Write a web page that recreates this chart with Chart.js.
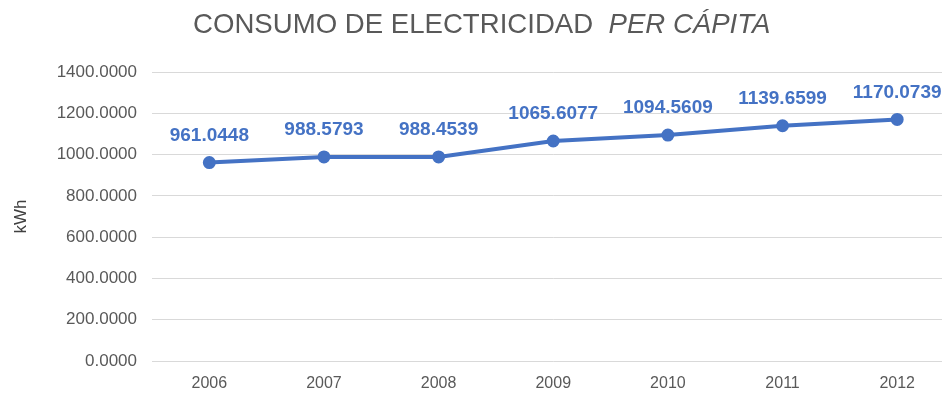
<!DOCTYPE html>
<html>
<head>
<meta charset="utf-8">
<script src="https://cdn.jsdelivr.net/npm/chart.js@4/dist/chart.umd.min.js"></script>
<style>
html,body{margin:0;padding:0;background:#fff;overflow:hidden;}
#wrap{width:963px;height:401px;position:relative;}
</style>
</head>
<body>
<div id="wrap"><canvas id="c"></canvas></div>
<script>
const years = ['2006','2007','2008','2009','2010','2011','2012'];
const consumo = [961.0448, 988.5793, 988.4539, 1065.6077, 1094.5609, 1139.6599, 1170.0739];
const titleMain = 'CONSUMO DE ELECTRICIDAD  ';
const titleItalic = 'PER CÁPITA';
const yAxisTitle = 'kWh';

const FONT = '"Liberation Sans", Arial, sans-serif';

const titlePlugin = {
  id: 'twoStyleTitle',
  afterDraw(chart) {
    const ctx = chart.ctx;
    ctx.save();
    ctx.fillStyle = '#595959';
    ctx.textBaseline = 'middle';
    ctx.textAlign = 'left';
    ctx.font = '27.6px ' + FONT;
    const w1 = ctx.measureText(titleMain).width;
    const x0 = 193;
    const y = 25;
    ctx.fillText(titleMain, x0, y);
    ctx.font = 'italic 27.6px ' + FONT;
    ctx.fillText(titleItalic, x0 + w1, y);
    ctx.restore();
  }
};

const labelPlugin = {
  id: 'pointLabels',
  afterDatasetsDraw(chart) {
    const ctx = chart.ctx;
    const meta = chart.getDatasetMeta(0);
    ctx.save();
    ctx.fillStyle = '#4472C4';
    ctx.font = 'bold 19px ' + FONT;
    ctx.textAlign = 'center';
    ctx.textBaseline = 'middle';
    meta.data.forEach((pt, i) => {
      ctx.fillText(consumo[i].toFixed(4), pt.x, pt.y - 27);
    });
    ctx.restore();
  }
};

new Chart(document.getElementById('c'), {
  type: 'line',
  data: {
    labels: years,
    datasets: [{
      data: consumo,
      borderColor: '#4472C4',
      backgroundColor: '#4472C4',
      borderWidth: 4,
      pointRadius: 4.5,
      pointHoverRadius: 4.5,
      pointBackgroundColor: '#4472C4',
      pointBorderColor: '#4472C4',
      tension: 0
    }]
  },
  options: {
    responsive: true,
    maintainAspectRatio: false,
    animation: false,
    layout: { padding: { top: 72, right: 4, bottom: 8, left: 0 } },
    plugins: {
      legend: { display: false },
      title: { display: false },
      tooltip: { enabled: false }
    },
    scales: {
      x: {
        offset: true,
        grid: { display: false, drawTicks: false },
        border: { display: false },
        ticks: { color: '#595959', font: { family: FONT, size: 16 }, padding: 13 },
        afterFit(scale) { scale.height = 32; }
      },
      y: {
        min: 0,
        max: 1400,
        grid: { color: '#d9d9d9', lineWidth: 1, drawTicks: false },
        border: { display: false },
        ticks: {
          stepSize: 200,
          color: '#595959',
          font: { family: FONT, size: 17 },
          padding: 15,
          callback: v => Number(v).toFixed(4)
        },
        title: {
          display: true,
          text: yAxisTitle,
          color: '#404040',
          font: { family: FONT, size: 17 },
          padding: { top: 11, bottom: 0 }
        },
        afterFit(scale) { scale.width = 152; }
      }
    }
  },
  plugins: [titlePlugin, labelPlugin]
});
</script>
</body>
</html>
